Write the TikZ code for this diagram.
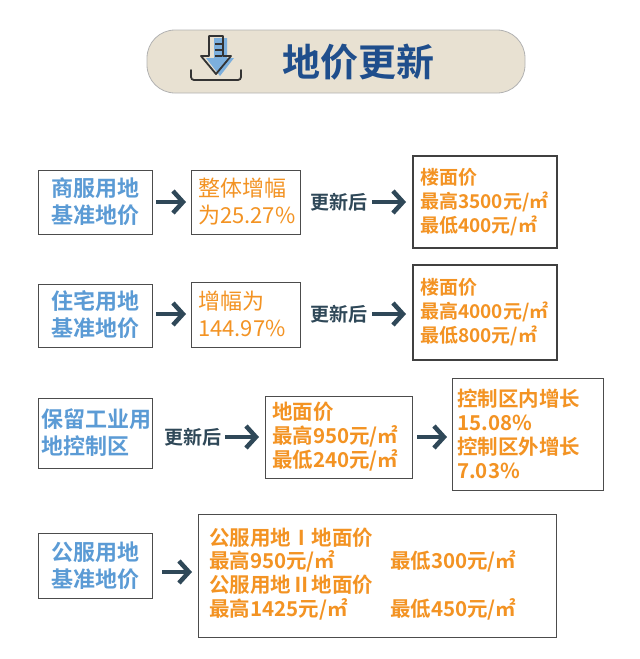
\documentclass[tikz,border=0pt]{standalone}
\usepackage{fontspec}
\setmainfont{Noto Sans CJK SC}
\newfontfamily\cjkb{Noto Sans CJK SC Bold}
\usetikzlibrary{arrows.meta}
\definecolor{hdr}{HTML}{E8E1D2}
\definecolor{hdrtxt}{HTML}{1F4E8C}
\definecolor{bl}{HTML}{5B9BD5}
\definecolor{og}{HTML}{F39323}
\definecolor{ar}{HTML}{2F4858}
\tikzset{
 box/.style={draw=black!70,line width=0.8pt,fill=white},
 bigbox/.style={draw=black!75,line width=1.3pt,fill=white},
 btxt/.style={text=bl,font=\cjkb\fontsize{22}{27}\selectfont,align=left,anchor=west,inner sep=0pt},
 otxt/.style={text=og,font=\fontsize{22}{27}\selectfont,align=left,anchor=west,inner sep=0pt},
 obtxt/.style={text=og,font=\cjkb\fontsize{20.5}{24}\selectfont,align=left,anchor=west,inner sep=0pt},
 obtxs/.style={obtxt,font=\cjkb\fontsize{19}{24}\selectfont},
 lab/.style={text=ar,font=\cjkb\fontsize{19}{22}\selectfont,inner sep=0pt},
 arr/.style={ar,line width=4.5pt,-{Straight Barb[length=10pt,width=22pt,line width=4.5pt]}},
}
\begin{document}
\begin{tikzpicture}[x=1pt,y=-1pt]
\useasboundingbox (0,0) rectangle (640,659);
% header
\draw[fill=hdr,draw=black!30,line width=0.8pt,rounded corners=28pt] (147,30) rectangle (525,93);
\node[text=hdrtxt,font=\cjkb\fontsize{38}{40}\selectfont] (title) at (358,62) {地价更新};
% icon
\fill[bl!80] (214,38) -- (227,38) -- (227,58) -- (234,58) -- (220,76) -- (206,58) -- (214,58) -- cycle;
\draw[black!80,line width=1.8pt,line join=round] (209,36) -- (223,36) -- (223,56) -- (231,56) -- (216,74) -- (201,56) -- (209,56) -- cycle;
\draw[black!80,line width=1.5pt] (215,44)--(222,44) (215,50)--(222,50) (215,56)--(222,56);
\draw[black!80,line width=1.8pt,line cap=round,rounded corners=3pt] (191,70) -- (191,80) -- (241,80) -- (241,70);
% row1
\draw[box] (38,170) rectangle (152,234);
\node[btxt] (a1) at (51,202) {商服用地\\基准地价};
\draw[box] (191,170) rectangle (300,234);
\node[otxt] (b1) at (198,202) {整体增幅\\为25.27\%};
\coordinate (p1) at (156,202); \coordinate (q1) at (186,202);
\draw[arr] (p1) -- (q1);
\node[lab] (l1) at (339,202) {更新后};
\coordinate (r1) at (372,202); \coordinate (s1) at (406,202);
\draw[arr] (r1) -- (s1);
\draw[bigbox] (413,156) rectangle (557,248);
\node[obtxs] (c1) at (420,202) {楼面价\\最高3500元/㎡\\最低400元/㎡};
% row2
\draw[box] (38,284) rectangle (152,347);
\node[btxt] (a2) at (51,315) {住宅用地\\基准地价};
\draw[box] (191,282) rectangle (300,347);
\node[otxt] (b2) at (198,314) {增幅为\\144.97\%};
\coordinate (p2) at (156,314); \coordinate (q2) at (186,314);
\draw[arr] (p2) -- (q2);
\node[lab] (l2) at (339,314) {更新后};
\coordinate (r2) at (372,314); \coordinate (s2) at (406,314);
\draw[arr] (r2) -- (s2);
\draw[bigbox] (413,265) rectangle (557,360);
\node[obtxs] (c2) at (420,312) {楼面价\\最高4000元/㎡\\最低800元/㎡};
% row3
\draw[box] (38,398) rectangle (152,468);
\node[btxt] (a3) at (41,433) {保留工业用\\地控制区};
\node[lab] (l3) at (193,437) {更新后};
\coordinate (r3) at (225,437); \coordinate (s3) at (259,437);
\draw[arr] (r3) -- (s3);
\draw[box,line width=1pt] (265,396) rectangle (412,478);
\node[obtxt] (b3) at (272,437) {地面价\\最高950元/㎡\\最低240元/㎡};
\coordinate (p3) at (417,437); \coordinate (q3) at (447,437);
\draw[arr] (p3) -- (q3);
\draw[box,line width=1pt] (452,378) rectangle (603,490);
\node[obtxt] (c3) at (457,434) {控制区内增长\\15.08\%\\控制区外增长\\7.03\%};
% row4
\draw[box] (38,533) rectangle (152,598);
\node[btxt] (a4) at (51,566) {公服用地\\基准地价};
\coordinate (p4) at (162,572); \coordinate (q4) at (192,572);
\draw[arr] (p4) -- (q4);
\draw[box] (198,514) rectangle (556,637);
\node[obtxt] (d1) at (209,538) {公服用地Ⅰ地面价};
\node[obtxt] (d2) at (209,561) {最高950元/㎡};
\node[obtxt] (d3) at (390,561) {最低300元/㎡};
\node[obtxt] (d4) at (209,585) {公服用地Ⅱ地面价};
\node[obtxt] (d5) at (209,609) {最高1425元/㎡};
\node[obtxt] (d6) at (390,609) {最低450元/㎡};
\end{tikzpicture}
\end{document}
